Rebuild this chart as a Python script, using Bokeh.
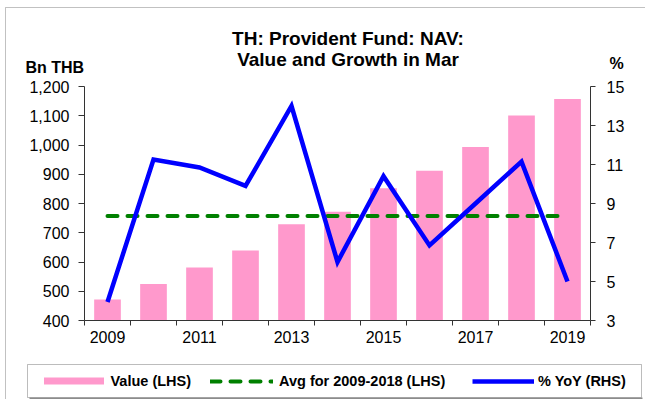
from bokeh.plotting import figure
from bokeh.models import (Range1d, LinearAxis, FixedTicker, NumeralTickFormatter,
                          Label, Legend, LegendItem, BoxAnnotation)
from bokeh.embed import file_html
from bokeh.resources import INLINE

# ---- data ----
years = [2009, 2010, 2011, 2012, 2013, 2014, 2015, 2016, 2017, 2018, 2019]
nav_value = [472, 525, 581, 639, 729, 772, 852, 912, 993, 1101, 1157]      # Bn THB
yoy_pct = [3.95, 11.25, 10.85, 9.9, 14.0, 6.0, 10.4, 6.85, 9.0, 11.15, 5.0]  # %
avg_period = years[:10]                       # 2009-2018
avg_value = sum(nav_value[:10]) / len(avg_period)
left_ticks = [400, 500, 600, 700, 800, 900, 1000, 1100, 1200]
right_ticks = [3, 5, 7, 9, 11, 13, 15]
x_label_years = [2009, 2011, 2013, 2015, 2017, 2019]
title_lines = ["TH: Provident Fund: NAV:", "Value and Growth in Mar"]
legend_labels = ["Value (LHS)", "Avg for 2009-2018 (LHS)", "% YoY (RHS)"]

# ---- layout (pixels) ----
W, H = 645, 399
PL, PR, PT, PB = 84, 590, 86, 320       # plot-area box inside the canvas

FONT = "Liberation Sans"
AXIS_COLOR = "#333333"
BAR_COLOR = "#FF99CC"
AVG_COLOR = "#008000"
YOY_COLOR = "#0000FF"

x0, x1 = years[0] - 0.5, years[-1] + 0.5
y0, y1 = left_ticks[0], left_ticks[-1]
r0, r1 = right_ticks[0], right_ticks[-1]
xs = (x1 - x0) / (PR - PL)
ys = (y1 - y0) / (PB - PT)
rs = (r1 - r0) / (PB - PT)

p = figure(width=W, height=H,
           x_range=Range1d(x0 - PL * xs, x1 + (W - PR) * xs),
           y_range=Range1d(y0 - (H - PB) * ys, y1 + PT * ys),
           output_backend="svg", toolbar_location=None, title=None,
           min_border_left=0, min_border_right=0, min_border_top=0, min_border_bottom=0)
p.extra_y_ranges = {"pct": Range1d(r0 - (H - PB) * rs, r1 + PT * rs)}
p.xgrid.visible = False
p.ygrid.visible = False
p.outline_line_color = None
p.background_fill_color = "white"
p.border_fill_color = "white"

def screen_box(left, right, top, bottom, **kw):
    return BoxAnnotation(left=left, right=right, top=H - top, bottom=H - bottom,
                         left_units="screen", right_units="screen",
                         top_units="screen", bottom_units="screen", **kw)

# outer chart border (top and left visible)
p.add_layout(screen_box(5, W + 20, 7, H + 20, fill_alpha=0,
                        line_color="#333333", line_width=1))

# ---- bottom axis ----
xax = p.xaxis[0]
xax.fixed_location = y0
xax.bounds = (x0, x1)
xax.ticker = FixedTicker(ticks=x_label_years,
                         minor_ticks=[y - 0.5 for y in years] + [years[-1] + 0.5])
xax.major_tick_line_color = None
xax.major_tick_in = 0
xax.major_tick_out = 5
xax.minor_tick_in = 0
xax.minor_tick_out = 5
xax.minor_tick_line_color = AXIS_COLOR
xax.axis_line_color = AXIS_COLOR
xax.major_label_standoff = 5
xax.major_label_text_font = FONT
xax.major_label_text_font_size = "16px"
xax.major_label_text_color = "black"

# ---- left axis ----
yax = p.yaxis[0]
yax.fixed_location = x0
yax.bounds = (y0, y1)
yax.ticker = FixedTicker(ticks=left_ticks)
yax.formatter = NumeralTickFormatter(format="0,0")
yax.major_tick_in = 0
yax.major_tick_out = 6
yax.minor_tick_line_color = None
yax.axis_line_color = AXIS_COLOR
yax.major_tick_line_color = AXIS_COLOR
yax.major_label_standoff = 9
yax.major_label_text_font = FONT
yax.major_label_text_font_size = "16px"
yax.major_label_text_color = "black"

# ---- right axis ----
rax = LinearAxis(y_range_name="pct", ticker=FixedTicker(ticks=right_ticks),
                 fixed_location=x1, bounds=(r0, r1))
rax.major_tick_in = 0
rax.major_tick_out = 5
rax.minor_tick_line_color = None
rax.axis_line_color = AXIS_COLOR
rax.major_tick_line_color = AXIS_COLOR
rax.major_label_standoff = 11
rax.major_label_text_font = FONT
rax.major_label_text_font_size = "16px"
rax.major_label_text_color = "black"
p.add_layout(rax, "right")

# ---- glyphs ----
bars_r = p.vbar(x=years, top=nav_value, bottom=y0, width=0.58,
                fill_color=BAR_COLOR, line_color=None)
avg_r = p.line(x=[avg_period[0], years[-1]], y=[avg_value, avg_value],
               line_color=AVG_COLOR, line_width=4, line_dash="10 10", line_cap="round")
yoy_r = p.line(x=years, y=yoy_pct, y_range_name="pct",
               line_color=YOY_COLOR, line_width=4.5, line_join="miter")

# ---- legend: one framed box holding three single-item legends ----
p.add_layout(screen_box(27, 641, 364, 397, fill_color="white", fill_alpha=1,
                        line_color="#222222", line_width=1))
p.add_layout(screen_box(29, 642, 397, 398.5, fill_color="#8c8c8c", fill_alpha=1,
                        line_color=None))

ROW_H = 18
row_bottom = H - (380.5 + ROW_H / 2)
legend_specs = [  # (renderer, label, glyph-box left, glyph width, glyph height, standoff)
    (bars_r, legend_labels[0], 35.5, 75, 9, 0),
    (avg_r, legend_labels[1], 210, 63, ROW_H, 6),
    (yoy_r, legend_labels[2], 472, 62, ROW_H, 4),
]
for rend, lab, gx, gw, gh, so in legend_specs:
    lg = Legend(items=[LegendItem(label=lab, renderers=[rend])],
                orientation="horizontal", location=(gx, row_bottom),
                glyph_width=gw, glyph_height=gh, label_height=ROW_H,
                label_standoff=so, spacing=0, padding=0, margin=0,
                border_line_color=None, background_fill_alpha=0,
                label_text_font=FONT, label_text_font_size="14.5px",
                label_text_font_style="bold", label_text_color="black")
    p.add_layout(lg, "center")

# ---- titles / unit labels ----
def add_text(txt, x, y_top, size, align="left"):
    p.add_layout(Label(x=x, y=H - y_top, x_units="screen", y_units="screen", text=txt,
                       text_align=align, text_baseline="alphabetic", text_font=FONT,
                       text_font_size=size, text_font_style="bold", text_color="black"))

add_text(title_lines[0], 347.5, 38, "19px", "center")
add_text(title_lines[1], 347.5, 59, "19px", "center")
add_text("Bn THB", 25, 67, "16px")
add_text("%", 609, 63, "16px")

open("out.html", "w").write(file_html(p, INLINE))
